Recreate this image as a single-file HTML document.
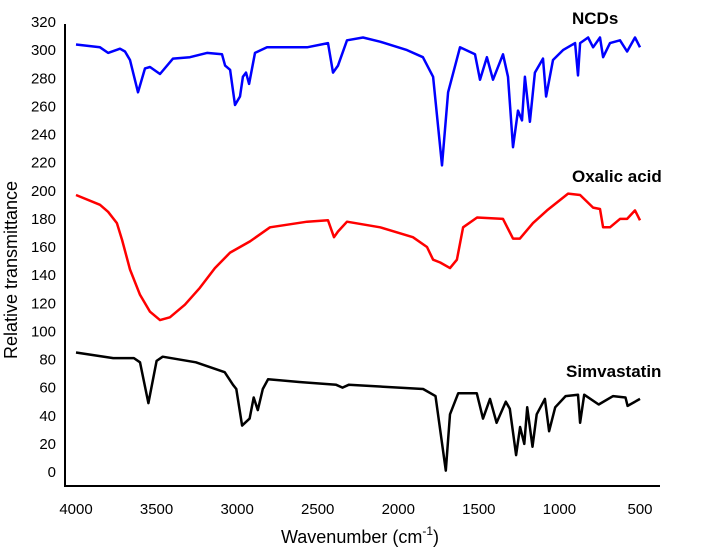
<!DOCTYPE html>
<html><head><meta charset="utf-8"><style>
html,body{margin:0;padding:0;background:#fff;}
svg{display:block;font-family:"Liberation Sans",Arial,sans-serif;}
</style></head><body>
<svg id="chart" width="702" height="556" viewBox="0 0 702 556" xmlns="http://www.w3.org/2000/svg">
<g id="axes"></g>
<g id="series"></g>
<text x="572" y="24" font-size="17" font-weight="bold" fill="#000">NCDs</text>
<text x="572" y="182" font-size="17" font-weight="bold" fill="#000">Oxalic acid</text>
<text x="566" y="377" font-size="17" font-weight="bold" fill="#000">Simvastatin</text>
<text transform="translate(17,270) rotate(-90)" text-anchor="middle" font-size="18" fill="#000">Relative transmittance</text>
<text x="360" y="543" text-anchor="middle" font-size="18" fill="#000">Wavenumber (cm<tspan font-size="12" dy="-8">-1</tspan><tspan dy="8">)</tspan></text>
</svg>
<script>
const xTicks=[4000,3500,3000,2500,2000,1500,1000,500];
const yTicks=[0,20,40,60,80,100,120,140,160,180,200,220,240,260,280,300,320];
const ncdsWn=[4000,3851,3801,3727,3696,3665,3615,3572,3541,3479,3398,3293,3187,3094,3075,3044,3013,2982,2964,2945,2926,2889,2815,2566,2436,2405,2374,2318,2219,2113,1946,1847,1784,1729,1691,1617,1524,1493,1450,1412,1350,1319,1288,1257,1232,1214,1183,1152,1102,1083,1040,978,903,885,872,822,791,748,729,686,624,580,531,500];
const ncdsVal=[304,302,298,301,299,293,270,287,288,283,294,295,298,297,289,286,261,267,281,284,276,298,302,302,305,284,289,307,309,306,300,295,281,218,270,302,297,279,295,279,297,281,231,257,250,281,249,284,294,267,293,300,305,282,305,309,302,309,295,305,307,299,309,302];
const oxWn=[4000,3851,3801,3746,3714,3665,3603,3541,3479,3417,3324,3231,3138,3044,2920,2796,2566,2436,2399,2374,2318,2113,1909,1822,1784,1740,1679,1636,1598,1511,1350,1288,1245,1164,1077,946,872,791,748,729,686,624,580,531,500];
const oxVal=[197,190,185,177,165,144,126,114,108,110,119,131,145,156,164,174,178,179,167,171,178,174,167,160,151,149,145,151,174,181,180,166,166,177,186,198,197,188,187,174,174,180,180,186,179];
const simWn=[4000,3769,3641,3603,3551,3500,3462,3256,3077,3026,3005,2969,2923,2897,2872,2841,2808,2615,2385,2346,2308,1846,1769,1705,1679,1628,1513,1474,1431,1390,1333,1308,1269,1244,1218,1200,1167,1141,1090,1064,1026,962,885,872,846,756,667,590,577,500];
const simVal=[85,81,81,78,49,79,82,78,71,62,59,33,38,53,44,59,66,64,62,60,62,59,54,1,41,56,56,38,52,35,50,45,12,32,20,46,18,41,52,29,46,54,55,35,55,48,54,53,47,52];
const X=w=>76+(4000-w)*(564/3500);
const Y=v=>472-v*(450/320);
const NS='http://www.w3.org/2000/svg';
const axes=document.getElementById('axes');
function mk(t,a,p){const e=document.createElementNS(NS,t);for(const k in a)e.setAttribute(k,a[k]);p.appendChild(e);return e;}
const ya=mk('line',{x1:65,y1:24,x2:65,y2:487,stroke:'#000','stroke-width':2},axes);


const xa=mk('line',{x1:64,y1:486,x2:660,y2:486,stroke:'#000','stroke-width':2},axes);


yTicks.forEach(v=>{const t=mk('text',{x:56,y:Y(v)+5,'text-anchor':'end','font-size':15,fill:'#000'},axes);t.textContent=v;

});
xTicks.forEach(w=>{const t=mk('text',{x:X(w),y:514,'text-anchor':'middle','font-size':15,fill:'#000'},axes);t.textContent=w;

});
const ser=document.getElementById('series');
function line(wn,val,col,name){const d=wn.map((w,i)=>(i?'L':'M')+X(w).toFixed(1)+' '+Y(val[i]).toFixed(1)).join('');
const p=mk('path',{d:d,fill:'none',stroke:col,'stroke-width':2.5,'stroke-linejoin':'round'},ser);

}
line(ncdsWn,ncdsVal,'#0000ff','ncds-line');
line(oxWn,oxVal,'#ff0000','oxalic-acid-line');
line(simWn,simVal,'#000000','simvastatin-line');
</script>
</body></html>
